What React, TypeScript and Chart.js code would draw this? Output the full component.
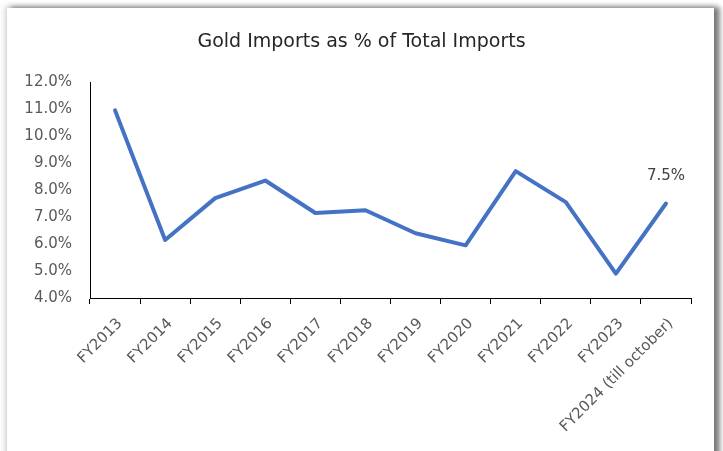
import React, { useEffect, useRef } from "react";
import { Chart, registerables } from "chart.js";

Chart.register(...registerables);

const categories: string[] = [
  "FY2013", "FY2014", "FY2015", "FY2016", "FY2017", "FY2018",
  "FY2019", "FY2020", "FY2021", "FY2022", "FY2023", "FY2024 (till october)",
];
const goldShare: number[] = [10.95, 6.15, 7.7, 8.35, 7.15, 7.25, 6.4, 5.95, 8.7, 7.55, 4.9, 7.5];
const yTicks: number[] = [4, 5, 6, 7, 8, 9, 10, 11, 12];
const titleText = "Gold Imports as % of Total Imports";

const FONT = "'DejaVu Sans', sans-serif";

const lastLabelPlugin = {
  id: "lastLabel",
  afterDatasetsDraw(chart: any) {
    const meta = chart.getDatasetMeta(0);
    const i = goldShare.length - 1;
    const pt = meta.data[i];
    if (!pt) return;
    const ctx = chart.ctx;
    ctx.save();
    ctx.font = `15px ${FONT}`;
    ctx.fillStyle = "#404040";
    ctx.textAlign = "center";
    ctx.textBaseline = "middle";
    ctx.fillText(goldShare[i].toFixed(1) + "%", pt.x, pt.y - 27);
    ctx.restore();
  },
};

export default function App() {
  const ref = useRef<HTMLCanvasElement | null>(null);
  useEffect(() => {
    if (!ref.current) return;
    const chart = new Chart(ref.current, {
      type: "line",
      data: {
        labels: categories,
        datasets: [
          {
            data: goldShare,
            borderColor: "#4472C4",
            borderWidth: 4,
            pointRadius: 0,
            borderCapStyle: "round",
            borderJoinStyle: "round",
            tension: 0,
            fill: false,
          },
        ],
      },
      options: {
        animation: false,
        responsive: false,
        maintainAspectRatio: false,
        layout: { padding: { left: 11, right: 11, top: 20, bottom: 0 } },
        plugins: {
          legend: { display: false },
          tooltip: { enabled: false },
          title: {
            display: true,
            text: titleText,
            color: "#262626",
            font: { family: FONT, size: 19, weight: "normal" },
            padding: { top: 11, bottom: 28.2 },
          },
        },
        scales: {
          x: {
            type: "category",
            offset: true,
            grid: {
              display: true,
              drawOnChartArea: false,
              drawTicks: true,
              tickLength: 6,
              color: "#000000",
              offset: true,
            },
            border: { display: true, color: "#000000", width: 1 },
            ticks: {
              autoSkip: false,
              maxRotation: 45,
              minRotation: 45,
              padding: 11,
              labelOffset: 5,
              color: "#595959",
              font: { family: FONT, size: 15 },
            },
            afterFit: (s: any) => {
              s.height = 153;
            },
          },
          y: {
            min: 4,
            max: 12,
            afterBuildTicks: (s: any) => {
              s.ticks = yTicks.map((v) => ({ value: v }));
            },
            grid: { display: true, drawOnChartArea: false, drawTicks: false },
            border: { display: true, color: "#000000", width: 1 },
            ticks: {
              padding: 18,
              color: "#595959",
              font: { family: FONT, size: 15 },
              callback: (v: any) => Number(v).toFixed(1) + "%",
            },
            afterFit: (s: any) => {
              s.width = 79;
            },
          },
          yRight: {
            type: "linear",
            position: "right",
            min: 4,
            max: 12,
            grid: { display: false, drawTicks: false },
            border: { display: false },
            ticks: { display: false },
            afterFit: (s: any) => {
              s.width = 21;
            },
          },
        },
      },
      plugins: [lastLabelPlugin],
    });
    return () => chart.destroy();
  }, []);

  return (
    <div style={{ position: "fixed", left: 0, top: 0, width: 723, height: 451, background: "#ffffff", overflow: "hidden" }}>
      <div
        style={{
          position: "absolute",
          left: 7,
          top: 8,
          width: 707,
          height: 470,
          background: "#ffffff",
          boxShadow: "0px 0px 6px 2px rgba(0,0,0,0.18), 5px 0px 5px 1px rgba(0,0,0,0.45)",
        }}
      />
      <canvas ref={ref} width={723} height={451} style={{ position: "absolute", left: 0, top: 0 }} />
    </div>
  );
}
